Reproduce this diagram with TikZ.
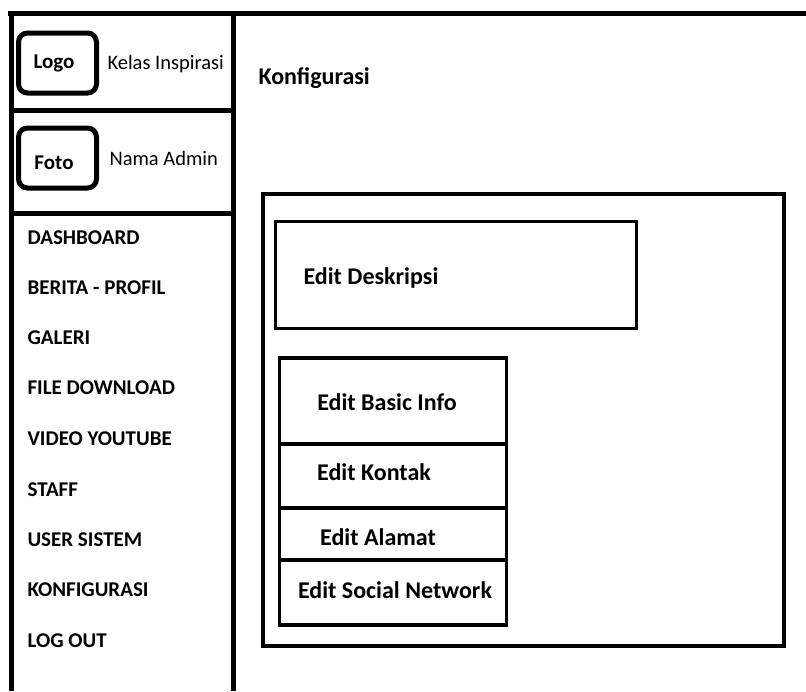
\documentclass[tikz,border=0pt]{standalone}
\usepackage{fontspec}
\setmainfont{Carlito}

\begin{document}
\begin{tikzpicture}[x=1pt,y=-1pt,
  frame/.style={line width=5pt},
  box/.style={draw,line width=3.5pt,rectangle,inner sep=0pt},
  pic/.style={draw,line width=5pt,rounded corners=9pt,inner sep=0pt,
    minimum width=78pt,minimum height=60pt},
  menu/.style={anchor=west,font=\fontsize{21}{23}\selectfont\bfseries},
  item/.style={font=\fontsize{24}{26}\selectfont\bfseries},
  small/.style={font=\fontsize{20.5}{23}\selectfont}]

\useasboundingbox (0,0) rectangle (806,691);

% sidebar frame
\draw[frame] (8,13) -- (806,13);
\draw[frame] (11,13) -- (11,691);
\draw[frame] (233,13) -- (233,691);
\draw[frame] (11,110) -- (233,110);
\draw[frame] (11,213) -- (233,213);

% logo and photo
\node[pic] (logo) at (57.5,63) {};
\node[font=\fontsize{21}{23}\selectfont\bfseries] (logotext) at (54,63) {Logo};
\node[small,anchor=west] (kelas) at (104,64) {Kelas Inspirasi};

\node[pic] (foto) at (57.5,158) {};
\node[font=\fontsize{21}{23}\selectfont\bfseries] (fototext) at (54,163) {Foto};
\node[small,anchor=west] (nama) at (106,158) {Nama Admin};

% menu
\node[menu] (m1) at (24,238) {DASHBOARD};
\node[menu] (m2) at (24,288) {BERITA - PROFIL};
\node[menu] (m3) at (24,338) {GALERI};
\node[menu] (m4) at (24,388) {FILE DOWNLOAD};
\node[menu] (m5) at (24,439) {VIDEO YOUTUBE};
\node[menu] (m6) at (24,490) {STAFF};
\node[menu] (m7) at (24,540) {USER SISTEM};
\node[menu] (m8) at (24,590) {KONFIGURASI};
\node[menu] (m9) at (24,641) {LOG OUT};

% content
\node[item,anchor=west] (title) at (255,78) {Konfigurasi};

\node[box,minimum width=521pt,minimum height=452pt] (panel) at (523.5,420) {};
\node[box,minimum width=361pt,minimum height=107pt] (desk) at (456,275) {};
\node[item,anchor=west] (desktext) at (300,278) {Edit Deskripsi};

\node[box,minimum width=227pt,minimum height=86pt] (basic) at (393,401) {};
\node[box,minimum width=227pt,minimum height=64pt] (kontak) at (393,476) {};
\node[box,minimum width=227pt,minimum height=52pt] (alamat) at (393,534) {};
\node[box,minimum width=227pt,minimum height=65pt] (sosial) at (393,592.5) {};

\node[item] (basictext) at (387,402) {Edit Basic Info};
\node[item] (kontaktext) at (374,472) {Edit Kontak};
\node[item] (alamattext) at (378,537) {Edit Alamat};
\node[item] (sosialtext) at (395,590) {Edit Social Network};

\end{tikzpicture}
\end{document}
